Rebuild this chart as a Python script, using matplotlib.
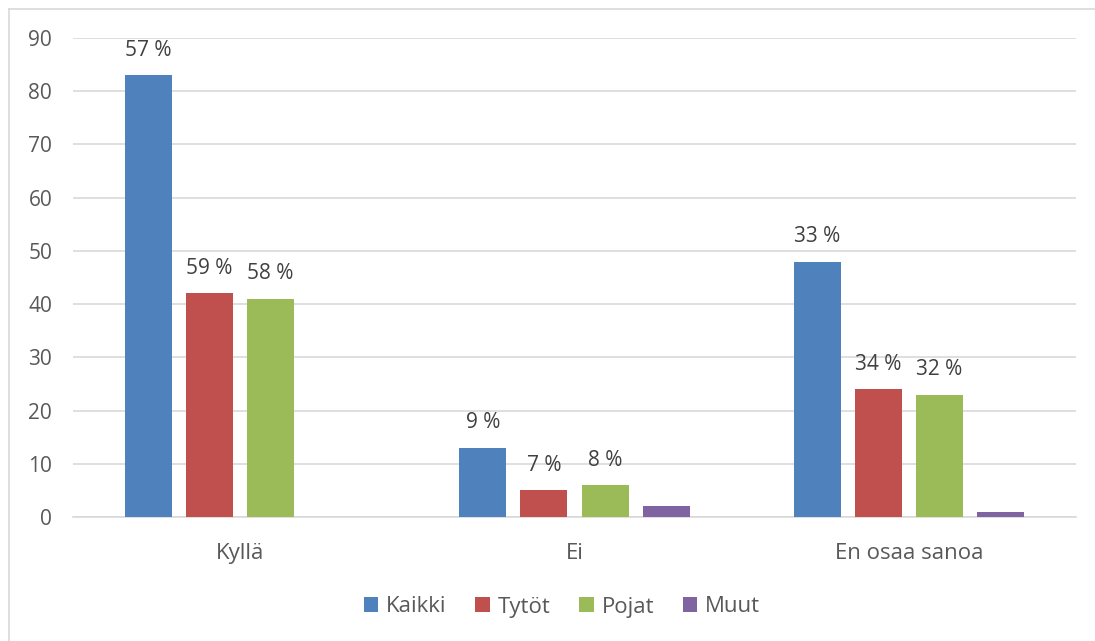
import numpy as np
import matplotlib
matplotlib.use('Agg')
import matplotlib.pyplot as plt
from matplotlib.lines import Line2D

plt.rcParams['font.family'] = ['Open Sans', 'DejaVu Sans']

categories = ['Kyllä', 'Ei', 'En osaa sanoa']
series_names = ['Kaikki', 'Tytöt', 'Pojat', 'Muut']
kaikki = [83, 13, 48]
tytot = [42, 5, 24]
pojat = [41, 6, 23]
muut = [0, 2, 1]
kaikki_labels = ['57 %', '9 %', '33 %']
tytot_labels = ['59 %', '7 %', '34 %']
pojat_labels = ['58 %', '8 %', '32 %']
colors = ['#4f81bd', '#c0504d', '#9bbb59', '#8064a2']
y_ticks = [0, 10, 20, 30, 40, 50, 60, 70, 80, 90]

fig = plt.figure(figsize=(10.95, 6.41), dpi=100)
ax = fig.add_axes([73 / 1095, 1 - 517 / 641, (1076 - 73) / 1095, (517 - 38) / 641])

x = np.arange(len(categories))
width = 0.1406
step = 0.1825
values = [kaikki, tytot, pojat, muut]
labels = [kaikki_labels, tytot_labels, pojat_labels, None]

for i, (vals, lab) in enumerate(zip(values, labels)):
    pos = x + (i - 1.5) * step
    ax.bar(pos, vals, width, color=colors[i], zorder=3, label=series_names[i])
    if lab:
        for p, v, t in zip(pos, vals, lab):
            ax.annotate(t, (p, v), xytext=(0, 18), textcoords='offset points',
                        ha='center', va='center', fontsize=15, color='#404040')

ax.set_xlim(-0.5, 2.5)
ax.set_ylim(0, 90)
ax.set_yticks(y_ticks)
ax.set_xticks(x)
ax.set_xticklabels(categories, fontsize=16)
ax.tick_params(axis='both', length=0, labelcolor='#595959')
ax.tick_params(axis='y', pad=15, labelsize=15)
ax.tick_params(axis='x', pad=19)
ax.grid(axis='y', color='#d9d9d9', linewidth=1.2, zorder=0)
for s in ['top', 'right', 'left']:
    ax.spines[s].set_visible(False)
ax.spines['bottom'].set_color('#d9d9d9')
ax.spines['bottom'].set_linewidth(1.2)

ax.legend(loc='center', bbox_to_anchor=(562 / 1095, (641 - 607) / 641), bbox_transform=fig.transFigure,
          ncol=4, frameon=False, fontsize=16, handlelength=0.65, handleheight=0.65,
          handletextpad=0.35, columnspacing=1.3, labelcolor='#595959')

# outer chart border (left and top only visible)
fig.add_artist(Line2D([9 / 1095, 9 / 1095], [0, 1 - 9 / 641], color='#d9d9d9', lw=1.2, transform=fig.transFigure))
fig.add_artist(Line2D([9 / 1095, 1], [1 - 9 / 641, 1 - 9 / 641], color='#d9d9d9', lw=1.2, transform=fig.transFigure))

plt.savefig('out.png', dpi=100)
